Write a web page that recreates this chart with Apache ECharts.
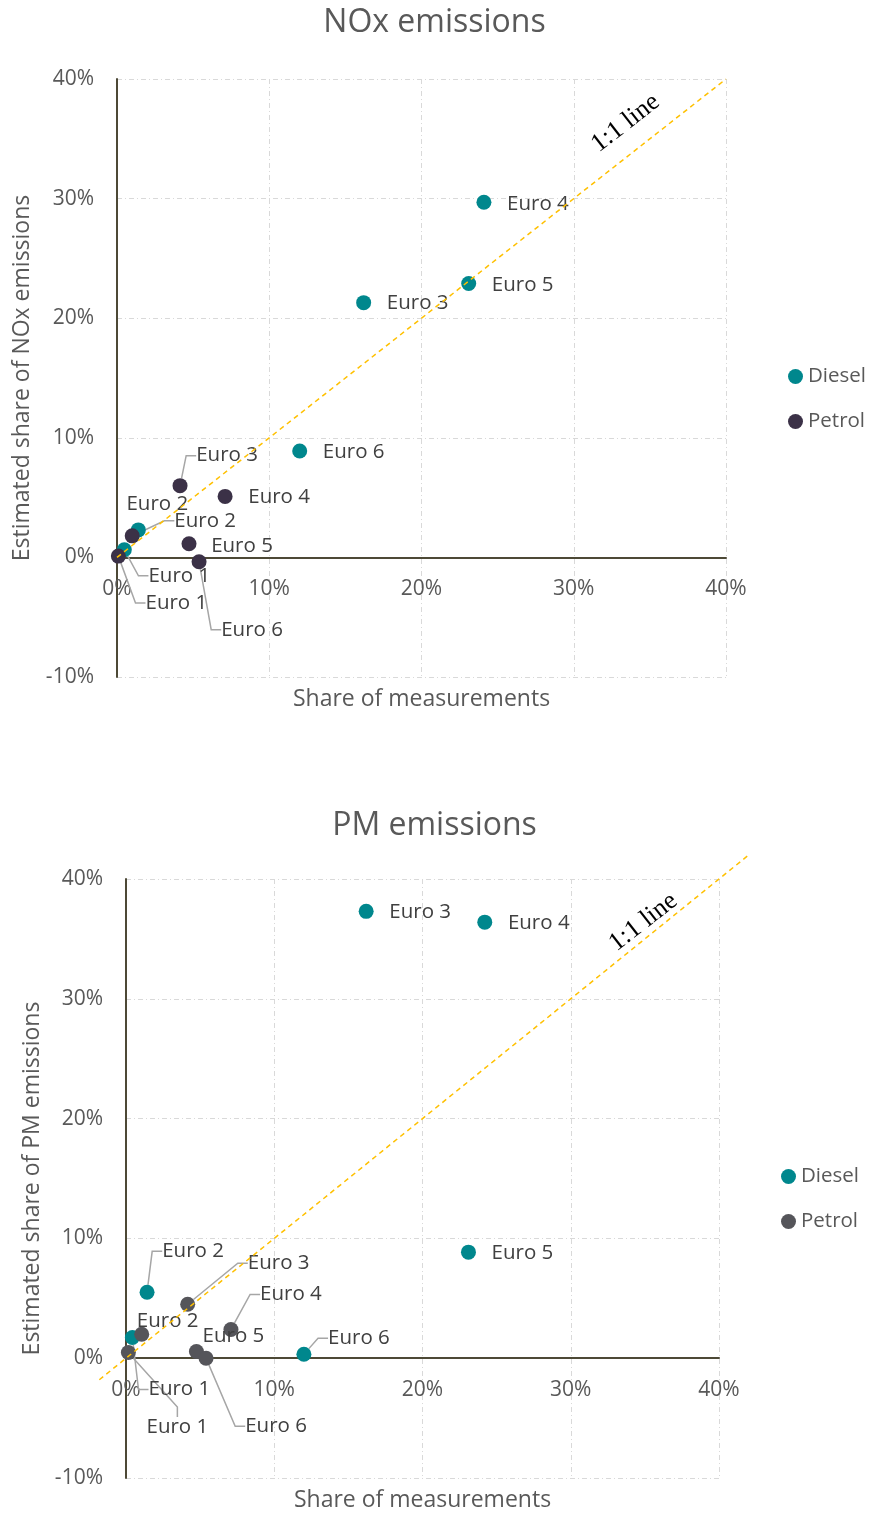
<!DOCTYPE html>
<html><head><meta charset="utf-8">
<script src="https://cdn.jsdelivr.net/npm/echarts@6/dist/echarts.min.js"></script>
<style>html,body{margin:0;padding:0;background:#fff;} #c1{width:869px;height:757px;} #c2{width:869px;height:756px;}</style>
</head><body><div id="c1"></div><div id="c2"></div>
<script>
// ---------- DATA ----------
const categories = ['Euro 1', 'Euro 2', 'Euro 3', 'Euro 4', 'Euro 5', 'Euro 6'];
const seriesNames = ['Diesel', 'Petrol'];

// NOx: share of measurements (x, %) and estimated share of emissions (y, %)
const noxDieselX = [0.48, 1.4, 16.2, 24.1, 23.1, 12.0];
const noxDieselY = [0.64, 2.3, 21.3, 29.7, 22.9, 8.9];
const noxPetrolX = [0.09, 1.0, 4.14, 7.1, 4.73, 5.39];
const noxPetrolY = [0.11, 1.8, 6.0, 5.1, 1.14, -0.36];

// PM
const pmDieselX = [0.43, 1.42, 16.2, 24.2, 23.1, 12.0];
const pmDieselY = [1.73, 5.5, 37.3, 36.4, 8.85, 0.33];
const pmPetrolX = [0.16, 1.06, 4.16, 7.08, 4.75, 5.4];
const pmPetrolY = [0.47, 2.0, 4.5, 2.4, 0.56, 0.0];

// 1:1 reference lines (x = y), start and end values
const noxOneToOne = [0, 40];
const pmOneToOne = [-1.8, 42];
// where the "1:1 line" caption sits (data coords)
const noxLineCaptionAt = [33.4, 36.3];
const pmLineCaptionAt = [34.9, 36.4];

// Axis ticks
const xMin = 0, xMax = 40, yMin = -10, yMax = 40, tickStep = 10;

// ---------- LAYOUT (label placement, px offsets of label centre from point centre; leader flag) ----------
const noxDieselLabelLayout = [[55, 26, 1], [19, -26, 0], [54, 1, 0], [54, 2, 0], [54, 2, 0], [54, 1, 0]];
const noxPetrolLabelLayout = [[58, 47, 1], [73, -15, 1], [47, -30, 1], [54, 1, 0], [53, 2, 0], [53, 68, 1]];
const pmDieselLabelLayout = [[47, 52, 1], [46, -41, 1], [54, 1, 0], [54, 1, 0], [54, 1, 0], [55, -16, 1]];
const pmPetrolLabelLayout = [[49, 75, 1], [26, -13, 0], [91, -41, 1], [60, -35, 1], [37, -15, 0], [70, 68, 1]];

const FONT = 'Open Sans';
const TEAL = '#00878D';
const AXIS_COL = '#4d4936';
const GRID_COL = '#d9d9d9';
const TXT = '#595959';

function pointData(xs, ys, layout) {
  return categories.map((c, i) => ({
    name: c,
    value: [xs[i], ys[i]],
    labelLine: { show: !!layout[i][2] }
  }));
}

function scatterSeries(name, color, xs, ys, layout) {
  return {
    name: name,
    type: 'scatter',
    symbol: 'circle',
    symbolSize: 15,
    itemStyle: { color: color, opacity: 1 },
    z: 3,
    data: pointData(xs, ys, layout),
    label: {
      show: true, position: 'right', formatter: '{b}',
      color: '#404040', fontFamily: FONT, fontSize: 20.5
    },
    labelLine: { show: false, length2: 10, lineStyle: { color: '#a6a6a6', width: 1.5 } },
    labelLayout: function (p) {
      const o = layout[p.dataIndex];
      const cx = p.rect.x + p.rect.width / 2, cy = p.rect.y + p.rect.height / 2;
      return {
        dx: cx + o[0] - (p.labelRect.x + p.labelRect.width / 2),
        dy: cy + o[1] - (p.labelRect.y + p.labelRect.height / 2)
      };
    }
  };
}

function oneToOneSeries(line, captionAt) {
  return {
    name: '1:1 line', type: 'custom', silent: true, z: 5, clip: false,
    encode: { x: [0, 2], y: [1, 3] },
    data: [[line[0], line[0], line[1], line[1]]],
    renderItem: function (params, api) {
      const p0 = api.coord([api.value(0), api.value(1)]);
      const p1 = api.coord([api.value(2), api.value(3)]);
      const pc = api.coord(captionAt);
      return {
        type: 'group',
        children: [
          {
            type: 'line',
            shape: { x1: p0[0], y1: p0[1], x2: p1[0], y2: p1[1] },
            style: { stroke: '#ffc000', lineWidth: 1.5, lineDash: [5, 4] }
          },
          {
            type: 'text', x: pc[0], y: pc[1], rotation: 38 * Math.PI / 180,
            style: {
              text: '1:1 line', fill: '#000', font: '26px "Liberation Serif"',
              align: 'center', verticalAlign: 'middle'
            }
          }
        ]
      };
    }
  };
}

function buildOption(cfg) {
  const plotH = cfg.height - cfg.grid.top - cfg.grid.bottom;
  // move the x axis (line, labels, name) up to the y = 0 position
  const zeroOffset = -plotH * (0 - yMin) / (yMax - yMin);
  return {
    animation: false,
    title: {
      text: cfg.title, left: 'center', top: cfg.titleTop,
      textStyle: { color: TXT, fontFamily: FONT, fontSize: 32, fontWeight: 'normal' }
    },
    legend: {
      data: seriesNames, orient: 'vertical', left: cfg.legendLeft, top: cfg.legendTop,
      padding: 0, icon: 'circle', itemWidth: 15, itemHeight: 15, itemGap: 24,
      textStyle: { color: TXT, fontFamily: FONT, fontSize: 20.5, lineHeight: 20 }
    },
    grid: Object.assign({ outerBoundsMode: 'none', containLabel: false }, cfg.grid),
    xAxis: {
      type: 'value', min: xMin, max: xMax, interval: tickStep,
      offset: zeroOffset,
      name: 'Share of measurements', nameLocation: 'middle', nameGap: cfg.xNameGap,
      nameTextStyle: { color: TXT, fontFamily: FONT, fontSize: 23 },
      axisLine: { onZero: false, lineStyle: { color: AXIS_COL, width: 2 } },
      axisTick: { show: false },
      axisLabel: { formatter: '{value}%', color: TXT, fontFamily: FONT, fontSize: 21, margin: 21 },
      splitLine: { show: true, lineStyle: { color: GRID_COL, width: 1, type: [5, 3, 1, 3] } }
    },
    yAxis: {
      type: 'value', min: yMin, max: yMax, interval: tickStep,
      name: cfg.yName, nameLocation: 'middle', nameGap: cfg.yNameGap,
      nameTextStyle: { color: TXT, fontFamily: FONT, fontSize: 23 },
      axisLine: { onZero: false, lineStyle: { color: AXIS_COL, width: 2 } },
      axisTick: { show: false },
      axisLabel: { formatter: '{value}%', color: TXT, fontFamily: FONT, fontSize: 21, margin: 23 },
      splitLine: { show: true, lineStyle: { color: GRID_COL, width: 1, type: [5, 3, 1, 3] } }
    },
    series: [
      scatterSeries('Diesel', TEAL, cfg.dx, cfg.dy, cfg.dl),
      scatterSeries('Petrol', cfg.petrolColor, cfg.px, cfg.py, cfg.pl),
      oneToOneSeries(cfg.line, cfg.captionAt)
    ]
  };
}

const c1 = echarts.init(document.getElementById('c1'));
c1.setOption(buildOption({
  height: 757,
  title: 'NOx emissions', titleTop: 2,
  yName: 'Estimated share of NOx emissions', yNameGap: 83, xNameGap: 131,
  legendLeft: 788, legendTop: 366,
  grid: { left: 117, right: 143, top: 79, bottom: 80 },
  dx: noxDieselX, dy: noxDieselY, dl: noxDieselLabelLayout,
  px: noxPetrolX, py: noxPetrolY, pl: noxPetrolLabelLayout,
  petrolColor: '#3b3147',
  line: noxOneToOne, captionAt: noxLineCaptionAt
}));

const c2 = echarts.init(document.getElementById('c2'));
c2.setOption(buildOption({
  height: 756,
  title: 'PM emissions', titleTop: 48,
  yName: 'Estimated share of PM emissions', yNameGap: 82, xNameGap: 131,
  legendLeft: 781, legendTop: 409,
  grid: { left: 126, right: 150, top: 122, bottom: 35 },
  dx: pmDieselX, dy: pmDieselY, dl: pmDieselLabelLayout,
  px: pmPetrolX, py: pmPetrolY, pl: pmPetrolLabelLayout,
  petrolColor: '#55555a',
  line: pmOneToOne, captionAt: pmLineCaptionAt
}));
</script>
</body></html>
